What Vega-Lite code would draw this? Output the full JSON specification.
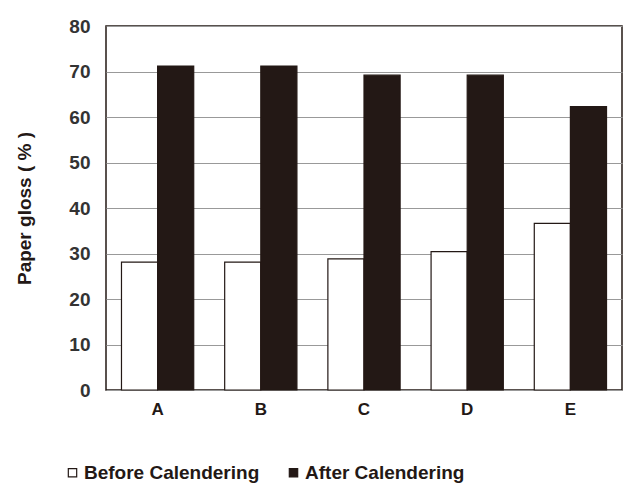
{
  "$schema": "https://vega.github.io/schema/vega-lite/v6.json",
  "autosize": {"type": "none"},
  "width": 516,
  "height": 364,
  "padding": {"left": 106, "top": 26, "right": 19, "bottom": 104},
  "background": "white",
  "data": {
    "values": [
      {"sample": "A", "condition": "Before Calendering", "gloss": 28.1},
      {"sample": "A", "condition": "After Calendering", "gloss": 71.2},
      {"sample": "B", "condition": "Before Calendering", "gloss": 28.1},
      {"sample": "B", "condition": "After Calendering", "gloss": 71.2},
      {"sample": "C", "condition": "Before Calendering", "gloss": 28.8},
      {"sample": "C", "condition": "After Calendering", "gloss": 69.2},
      {"sample": "D", "condition": "Before Calendering", "gloss": 30.4},
      {"sample": "D", "condition": "After Calendering", "gloss": 69.2},
      {"sample": "E", "condition": "Before Calendering", "gloss": 36.6},
      {"sample": "E", "condition": "After Calendering", "gloss": 62.3}
    ]
  },
  "mark": {"type": "bar", "stroke": "#231815", "strokeWidth": 1.2},
  "encoding": {
    "x": {
      "field": "sample", "type": "nominal",
      "scale": {"paddingInner": 0.3, "paddingOuter": 0.15},
      "axis": {"title": null, "labelAngle": 0, "labelFont": "Liberation Sans", "labelFontWeight": "bold", "labelFontSize": 17, "labelColor": "#231815", "labelPadding": 11, "ticks": false, "domain": false}
    },
    "xOffset": {"field": "condition", "type": "nominal", "sort": ["Before Calendering", "After Calendering"]},
    "y": {
      "field": "gloss", "type": "quantitative",
      "scale": {"domain": [0, 80]},
      "axis": {"title": "Paper gloss ( % )", "values": [0,10,20,30,40,50,60,70,80], "titleFont": "Liberation Sans", "titleFontWeight": "bold", "titleFontSize": 19, "titleColor": "#231815", "titlePadding": 34, "labelFont": "Liberation Sans", "labelFontWeight": "bold", "labelFontSize": 19, "labelColor": "#333333", "labelPadding": 16, "ticks": false, "domain": false, "gridColor": "#999999", "gridWidth": 1.2}
    },
    "fill": {
      "field": "condition", "type": "nominal",
      "sort": ["Before Calendering", "After Calendering"],
      "scale": {"domain": ["Before Calendering", "After Calendering"], "range": ["#ffffff", "#231815"]},
      "legend": {
        "title": null, "orient": "none", "direction": "horizontal",
        "legendX": -43, "legendY": 437,
        "symbolType": "square", "symbolSize": 70, "symbolStrokeColor": "#231815", "symbolStrokeWidth": 1.2,
        "labelFont": "Liberation Sans", "labelFontWeight": "bold", "labelFontSize": 19, "labelColor": "#231815", "labelLimit": 400,
        "labelOffset": 2, "columnPadding": 24
      }
    }
  },
  "config": {
    "view": {"stroke": "#231815", "strokeWidth": 1.5}
  }
}
